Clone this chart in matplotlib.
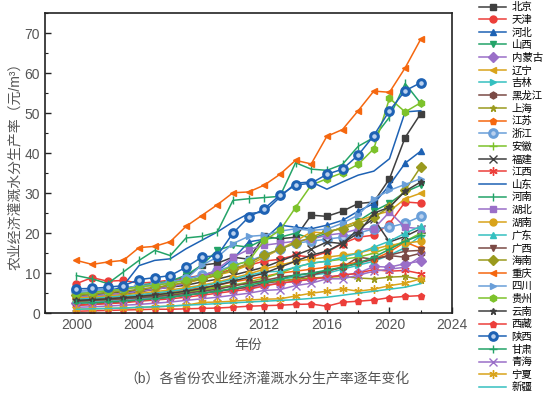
import numpy as np
import matplotlib
matplotlib.use("Agg")
import matplotlib.pyplot as plt
from matplotlib.ticker import MultipleLocator

plt.rcParams['font.family'] = ['Liberation Sans', 'Noto Sans CJK SC', 'DejaVu Sans']

# --- data ---
years = list(range(2000, 2023))

beijing   = [4.0, 4.0, 4.3, 4.6, 5.3, 6.0, 7.2, 9.0, 12.0, 12.5, 14.0, 13.5, 19.3, 18.6, 19.0, 24.5, 24.2, 25.5, 27.4, 27.8, 33.6, 43.9, 49.9]
tianjin   = [7.4, 8.9, 8.0, 8.2, 7.5, 7.8, 8.3, 8.8, 9.5, 10.0, 11.0, 12.0, 13.0, 13.5, 14.5, 14.0, 15.3, 17.4, 19.0, 19.5, 22.4, 27.8, 27.5]
hebei     = [5.5, 5.8, 6.0, 6.2, 6.8, 7.2, 7.8, 8.5, 9.5, 10.5, 13.5, 17.8, 18.5, 22.0, 21.5, 21.1, 22.0, 23.2, 25.5, 27.4, 32.0, 37.5, 40.5]
shanxi    = [5.0, 5.3, 5.5, 6.0, 7.0, 7.5, 8.0, 9.5, 12.0, 15.7, 17.0, 16.5, 18.5, 19.0, 20.0, 18.6, 20.0, 21.5, 23.0, 25.5, 27.5, 30.3, 32.0]
neimenggu = [2.5, 2.7, 3.0, 3.2, 3.5, 3.8, 4.2, 4.6, 5.0, 5.5, 6.0, 6.5, 7.0, 7.5, 8.0, 8.5, 9.0, 9.5, 10.0, 11.7, 11.5, 12.4, 13.0]
liaoning  = [4.5, 4.8, 5.0, 5.3, 5.8, 6.2, 6.8, 7.5, 8.5, 9.5, 10.5, 12.0, 14.0, 16.0, 18.0, 20.3, 20.0, 21.5, 23.0, 24.5, 25.5, 28.6, 30.0]
jilin     = [2.8, 3.0, 3.2, 3.5, 3.8, 4.0, 4.5, 5.0, 5.5, 6.0, 7.0, 7.5, 8.0, 8.5, 9.0, 9.5, 10.0, 11.0, 12.0, 13.0, 14.5, 16.4, 19.4]
heilongjiang = [2.0, 2.2, 2.5, 2.8, 3.2, 3.5, 4.0, 4.5, 5.0, 5.5, 6.0, 6.5, 7.5, 8.0, 8.5, 9.5, 10.5, 11.5, 14.0, 13.5, 14.4, 14.0, 15.0]
shanghai  = [3.5, 3.6, 3.8, 4.0, 4.3, 4.6, 5.0, 5.5, 6.0, 6.5, 7.0, 7.5, 7.8, 8.0, 8.5, 8.8, 9.0, 9.2, 8.8, 8.6, 9.0, 9.2, 8.4]
jiangsu   = [3.5, 3.8, 4.0, 4.2, 4.6, 5.0, 5.4, 5.8, 6.4, 7.0, 7.8, 8.5, 9.2, 10.0, 10.5, 11.0, 11.5, 12.0, 12.8, 13.5, 15.3, 17.8, 16.2]
zhejiang  = [5.5, 5.8, 6.0, 6.3, 6.8, 7.2, 7.8, 8.5, 9.5, 10.5, 12.0, 13.0, 14.5, 16.0, 17.5, 18.0, 18.5, 19.0, 20.0, 21.1, 21.5, 22.5, 24.2]
anhui     = [3.0, 3.2, 3.4, 3.6, 4.0, 4.3, 4.7, 5.2, 5.8, 6.3, 7.0, 7.8, 8.8, 10.0, 11.5, 12.5, 13.0, 13.5, 14.0, 15.0, 16.5, 18.0, 20.0]
fujian    = [4.5, 4.7, 5.0, 5.3, 5.7, 6.0, 6.5, 7.0, 7.8, 8.5, 9.5, 10.5, 11.5, 13.0, 14.5, 16.0, 17.8, 17.4, 21.0, 23.6, 17.8, 19.2, 21.1]
jiangxi   = [2.0, 2.2, 2.4, 2.6, 3.0, 3.3, 3.6, 4.0, 4.5, 5.0, 5.5, 6.0, 6.8, 7.5, 8.0, 8.5, 9.0, 9.5, 10.0, 10.9, 10.5, 10.7, 9.9]
shandong  = [4.5, 4.7, 5.0, 6.9, 11.9, 13.2, 13.6, 16.1, 18.2, 20.3, 22.8, 24.9, 25.3, 29.0, 32.5, 32.8, 31.0, 32.8, 34.5, 35.5, 38.6, 50.3, 50.6]
henan     = [9.4, 8.6, 7.4, 10.3, 13.2, 15.7, 14.4, 18.8, 19.2, 20.3, 28.2, 28.6, 28.9, 29.2, 37.6, 36.0, 35.7, 37.2, 41.7, 43.9, 49.0, 57.4, 52.4]
hubei     = [4.0, 4.3, 4.6, 5.0, 5.5, 6.0, 6.5, 7.5, 9.0, 11.0, 14.0, 15.9, 17.0, 17.5, 18.0, 18.5, 19.5, 20.0, 21.0, 21.1, 25.3, 21.5, 21.1]
hunan     = [3.8, 4.0, 4.3, 4.6, 5.0, 5.4, 5.8, 6.4, 7.0, 7.8, 8.8, 9.8, 11.0, 12.0, 13.0, 13.5, 14.0, 14.5, 15.0, 16.0, 17.0, 17.5, 18.0]
guangdong = [3.5, 3.7, 4.0, 4.3, 4.6, 5.0, 5.5, 6.0, 6.8, 7.5, 8.5, 9.5, 10.3, 10.5, 11.5, 12.5, 13.0, 14.0, 15.0, 16.5, 18.0, 20.0, 21.7]
guangxi   = [3.0, 3.2, 3.4, 3.6, 3.9, 4.2, 4.5, 5.0, 5.5, 6.0, 6.8, 7.5, 8.2, 9.0, 9.5, 10.0, 10.5, 11.5, 12.5, 13.5, 14.5, 15.5, 15.7]
hainan    = [4.5, 4.8, 5.2, 5.5, 6.0, 6.5, 7.0, 7.8, 8.5, 9.5, 11.0, 12.5, 14.5, 16.0, 17.5, 19.0, 20.5, 21.1, 22.4, 24.0, 26.5, 30.7, 36.6]
chongqing = [13.2, 12.2, 12.8, 13.2, 16.4, 16.7, 17.9, 21.7, 24.4, 27.1, 30.1, 30.3, 32.0, 34.7, 38.2, 37.3, 44.2, 45.9, 50.6, 55.5, 55.2, 61.3, 68.5]
sichuan   = [5.0, 5.3, 5.6, 6.0, 6.5, 7.0, 7.6, 8.5, 12.0, 14.0, 17.4, 19.2, 19.5, 20.5, 21.1, 20.7, 21.0, 22.5, 24.5, 28.6, 30.7, 32.2, 33.6]
guizhou   = [4.8, 5.2, 5.6, 6.0, 6.6, 7.0, 7.5, 8.2, 8.9, 9.9, 11.9, 13.0, 18.2, 20.7, 26.4, 32.0, 33.6, 35.1, 37.2, 41.1, 53.7, 50.3, 52.6]
yunnan    = [3.2, 3.4, 3.6, 3.9, 4.2, 4.6, 5.0, 5.5, 6.2, 7.0, 8.0, 9.0, 10.0, 11.5, 13.0, 14.5, 15.5, 17.5, 20.0, 25.0, 26.5, 30.5, 32.8]
xizang    = [0.5, 0.6, 0.7, 0.8, 0.9, 1.0, 1.0, 1.1, 1.2, 1.3, 1.5, 1.75, 1.9, 2.0, 2.2, 2.3, 1.75, 2.75, 3.0, 3.3, 3.9, 4.2, 4.4]
shaanxi   = [6.1, 6.2, 6.5, 6.9, 8.4, 8.9, 9.4, 11.5, 14.0, 14.4, 20.0, 24.0, 26.1, 29.5, 32.0, 32.5, 34.7, 36.0, 39.5, 44.4, 50.6, 55.6, 57.6]
gansu     = [2.5, 2.6, 2.8, 3.0, 3.3, 3.6, 4.0, 4.5, 5.0, 5.5, 6.2, 7.0, 7.8, 8.5, 9.5, 10.0, 10.8, 11.5, 12.5, 14.0, 16.0, 18.0, 19.5]
qinghai   = [1.5, 1.6, 1.8, 2.0, 2.2, 2.5, 2.8, 3.2, 3.6, 4.0, 4.5, 5.0, 5.7, 5.9, 6.9, 7.5, 8.6, 8.6, 9.5, 10.5, 11.0, 11.5, 14.2]
ningxia   = [1.0, 1.1, 1.2, 1.3, 1.4, 1.6, 1.8, 2.0, 2.7, 2.8, 3.0, 3.3, 3.5, 3.6, 4.3, 5.0, 5.5, 6.1, 5.5, 6.0, 6.9, 7.5, 8.6]
xinjiang  = [1.0, 1.1, 1.2, 1.3, 1.5, 1.6, 1.8, 2.0, 2.2, 2.4, 2.6, 2.8, 3.0, 3.2, 3.4, 3.7, 4.0, 4.5, 5.0, 5.5, 6.0, 6.5, 7.4]

provinces = ["北京", "天津", "河北", "山西", "内蒙古", "辽宁", "吉林", "黑龙江", "上海", "江苏",
             "浙江", "安徽", "福建", "江西", "山东", "河南", "湖北", "湖南", "广东", "广西",
             "海南", "重庆", "四川", "贵州", "云南", "西藏", "陕西", "甘肃", "青海", "宁夏", "新疆"]
series = [beijing, tianjin, hebei, shanxi, neimenggu, liaoning, jilin, heilongjiang, shanghai, jiangsu,
          zhejiang, anhui, fujian, jiangxi, shandong, henan, hubei, hunan, guangdong, guangxi,
          hainan, chongqing, sichuan, guizhou, yunnan, xizang, shaanxi, gansu, qinghai, ningxia, xinjiang]

# Origin-like colour and marker cycles
colors = ['#3f3f3f', '#ec3e3a', '#1e62b4', '#23a368', '#9a6fc8', '#d9a31a',
          '#35c0c0', '#7b4a45', '#9a9a1e', '#f5670f', '#6a9fd9', '#7dc22b']
markers = ['s', 'o', '^', 'v', 'D', '<', '>', 'h', '*', 'p', 'o', '+', 'x', (6, 2, 0), '', '|']

fig = plt.figure(figsize=(5.5, 3.95), dpi=100)
ax = fig.add_axes([0.082, 0.207, 0.74, 0.76])

for i, (name, vals) in enumerate(zip(provinces, series)):
    c = colors[i % 12]
    m = markers[i % 16]
    kw = dict(color=c, marker=m, markersize=5, linewidth=1.1, label=name,
              markerfacecolor=c, markeredgecolor=c)
    if i % 16 == 10:  # filled circle with a pale centre
        kw.update(markerfacecolor='#b9d0ee', markeredgewidth=2.2, markersize=5.5)
    if m in ('+', 'x', (6, 2, 0), '|'):
        kw.update(markeredgewidth=1.0, markersize=6)
    ax.plot(years, vals, **kw)

ax.set_xlim(1998, 2024)
ax.set_ylim(0, 75)
ax.xaxis.set_major_locator(MultipleLocator(4))
ax.xaxis.set_minor_locator(MultipleLocator(2))
ax.yaxis.set_major_locator(MultipleLocator(10))
ax.yaxis.set_minor_locator(MultipleLocator(5))
ax.tick_params(which='both', direction='in', colors='#222222', labelcolor='#555555', labelsize=10)
ax.tick_params(which='major', length=4, width=1.0)
ax.tick_params(which='minor', length=2.5, width=0.8)
for s in ax.spines.values():
    s.set_linewidth(1.2)
    s.set_color('#222222')

ax.set_xlabel("年份", fontsize=10, color='#555555', labelpad=4)
ax.set_ylabel("农业经济灌溉水分生产率（元/m³）", fontsize=10, color='#555555', labelpad=2)

fig.legend(loc='upper left', bbox_to_anchor=(0.86, 1.01), frameon=False,
           fontsize=7.5, handlelength=2.6, labelspacing=0.25, handletextpad=0.5,
           borderaxespad=0.2)

fig.text(0.486, 0.043, "（b）各省份农业经济灌溉水分生产率逐年变化", ha='center', va='center',
         fontsize=10, color='#555555')

fig.savefig("out.png", dpi=100)
